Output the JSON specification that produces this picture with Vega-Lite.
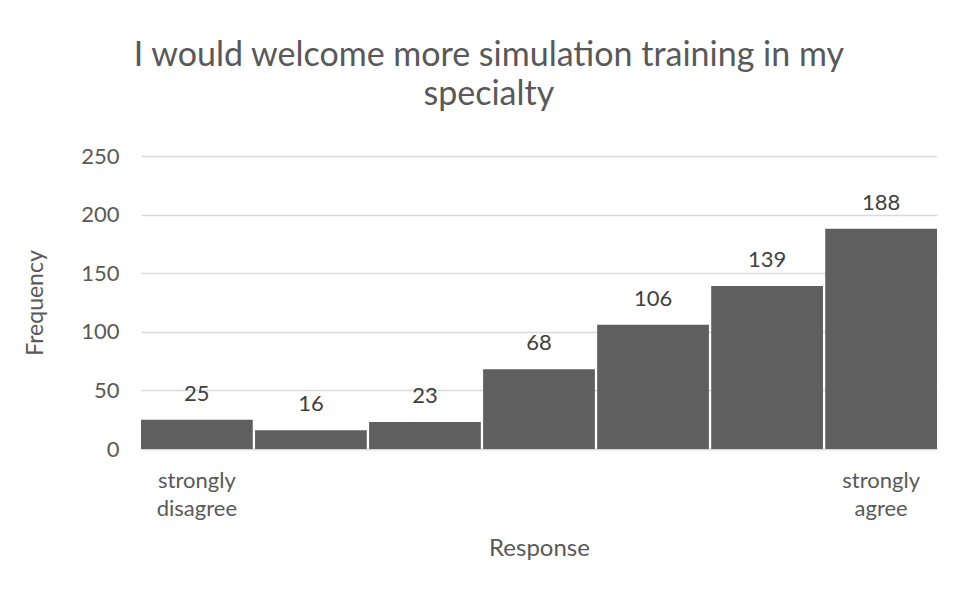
{
  "$schema": "https://vega.github.io/schema/vega-lite/v6.json",
  "autosize": {"type": "none"},
  "width": 796,
  "height": 293,
  "padding": {"left": 141, "top": 156, "right": 18, "bottom": 141},
  "background": "white",
  "data": {"values": [
    {"response": 1, "frequency": 25},
    {"response": 2, "frequency": 16},
    {"response": 3, "frequency": 23},
    {"response": 4, "frequency": 68},
    {"response": 5, "frequency": 106},
    {"response": 6, "frequency": 139},
    {"response": 7, "frequency": 188}
  ]},
  "title": {
    "text": ["I would welcome more simulation training in my", "specialty"],
    "font": "Lato",
    "fontSize": 34,
    "fontWeight": "normal",
    "color": "#595959",
    "lineHeight": 39,
    "anchor": "middle",
    "frame": "bounds",
    "dx": 8,
    "offset": 33
  },
  "config": {
    "view": {"stroke": null},
    "font": "Lato"
  },
  "encoding": {
    "x": {
      "field": "response",
      "type": "ordinal",
      "scale": {"paddingInner": 0.02, "paddingOuter": 0},
      "axis": {
        "title": "Response",
        "titleFont": "Lato",
        "titleFontSize": 24,
        "titleFontWeight": "normal",
        "titleColor": "#595959",
        "titlePadding": 17,
        "labelExpr": "datum.value == 1 ? ['strongly', 'disagree'] : datum.value == 7 ? ['strongly', 'agree'] : ''",
        "labelAngle": 0,
        "labelFont": "Lato",
        "labelFontSize": 22,
        "labelColor": "#595959",
        "labelLineHeight": 28,
        "labelPadding": 21,
        "labelBaseline": "top",
        "ticks": false,
        "domainColor": "#d9d9d9",
        "domainWidth": 1.5
      }
    },
    "y": {
      "field": "frequency",
      "type": "quantitative",
      "scale": {"domain": [0, 250]},
      "axis": {
        "title": "Frequency",
        "titleFont": "Lato",
        "titleFontSize": 23,
        "titleFontWeight": "normal",
        "titleColor": "#595959",
        "titlePadding": 33,
        "values": [0, 50, 100, 150, 200, 250],
        "labelFont": "Lato",
        "labelFontSize": 22,
        "labelColor": "#595959",
        "labelPadding": 22,
        "ticks": false,
        "domain": false,
        "gridColor": "#d9d9d9",
        "gridWidth": 1.5
      }
    }
  },
  "layer": [
    {"mark": {"type": "bar", "color": "#5f5f5f"}},
    {
      "mark": {"type": "text", "baseline": "bottom", "dy": -14, "font": "Lato", "fontSize": 22, "color": "#404040"},
      "encoding": {"text": {"field": "frequency", "type": "quantitative"}}
    }
  ]
}
